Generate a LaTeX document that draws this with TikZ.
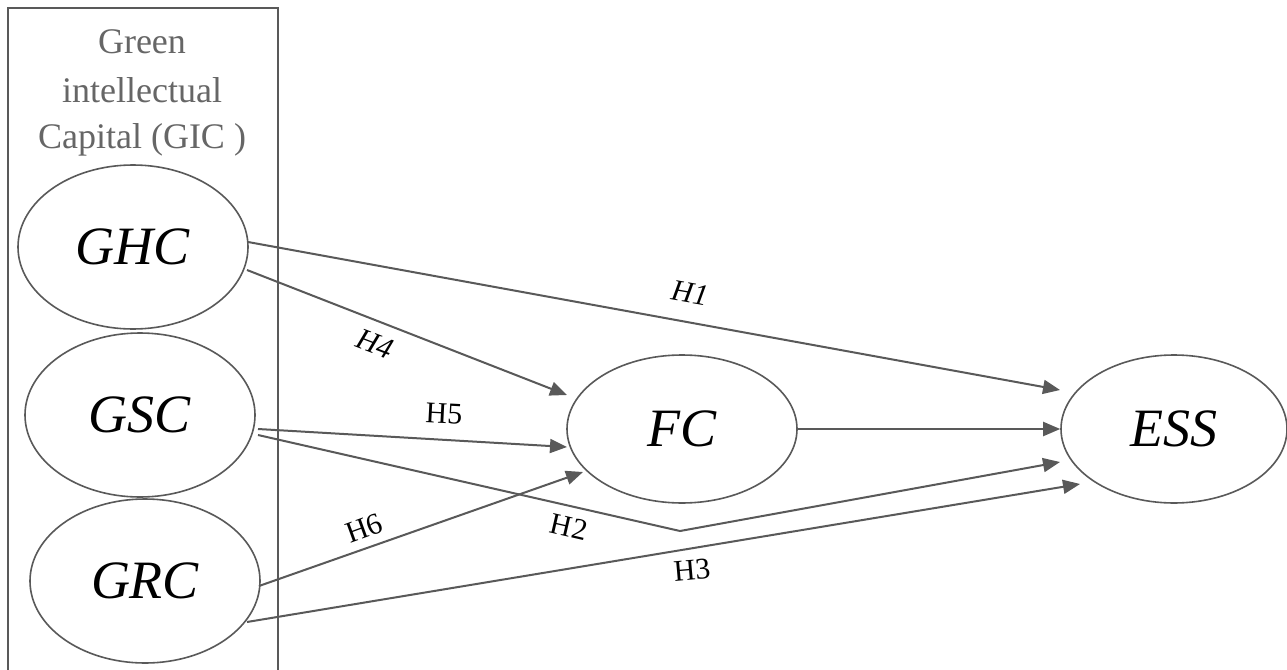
\documentclass[tikz,border=0pt]{standalone}
\usepackage{fontspec}
\setmainfont{Liberation Serif}
\usetikzlibrary{shapes.geometric,arrows.meta,calc}
\definecolor{ln}{HTML}{595959}
\definecolor{tt}{HTML}{666666}
\begin{document}
\begin{tikzpicture}[x=1pt,y=-1pt,
  var/.style={ellipse,draw=ln,line width=1.6pt,minimum width=230pt,minimum height=164pt,inner sep=0pt,font=\fontsize{54}{60}\selectfont\itshape},
  conn/.style={draw=ln,line width=2pt,-{Triangle[length=17pt,width=14pt]}},
  lab/.style={font=\fontsize{30}{34}\selectfont,inner sep=0pt},
  ilab/.style={font=\fontsize{30}{34}\selectfont\itshape,inner sep=0pt},
  ttl/.style={font=\fontsize{36}{47}\selectfont,text=tt,inner sep=0pt,anchor=base}]
\clip (0,0) rectangle (1287,669);
\fill[white] (0,0) rectangle (1287,669);
\draw[ln,line width=1.8pt] (8,8) rectangle (278,700);
\node[ttl] (t1) at (142,54) {Green};
\node[ttl] (t2) at (142,102) {intellectual};
\node[ttl] (t3) at (142,148) {Capital (GIC )};
\node[var] (ghc) at (133,247) {GHC};
\node[var] (gsc) at (140,415) {GSC};
\node[var] (grc) at (145,581) {GRC};
\node[var,minimum height=148pt] (fc) at (682,429) {FC};
\node[var,minimum width=226pt,minimum height=148pt] (ess) at (1174,429) {ESS};
\coordinate (bend) at (680,531);
% connectors
\draw[conn] ($(ghc)+(115,-5)$) -- ($(ess)+(-114,-39)$);
\draw[conn] ($(ghc)+(114,23)$) -- ($(fc)+(-115,-34)$);
\draw[conn] ($(gsc)+(118,14)$) -- ($(fc)+(-115,18)$);
\draw[conn] ($(gsc)+(118,20)$) -- (bend) -- ($(ess)+(-114,33)$);
\draw[conn] ($(grc)+(114,5)$) -- ($(fc)+(-99,43)$);
\draw[conn] ($(grc)+(102,41)$) -- ($(ess)+(-94,55)$);
\draw[conn] (fc.east) -- (ess.west);
% labels
\node[ilab,rotate=-10] (h1) at (690,293) {H1};
\node[ilab,rotate=-21] (h4) at (375,344) {H4};
\node[lab,rotate=-3] (h5) at (444,414) {H5};
\node[lab,rotate=20] (h6) at (364,528) {H6};
\node[lab,rotate=-13] (h2) at (569,527) {H2};
\node[lab,rotate=5] (h3) at (692,570) {H3};
\end{tikzpicture}
\end{document}
